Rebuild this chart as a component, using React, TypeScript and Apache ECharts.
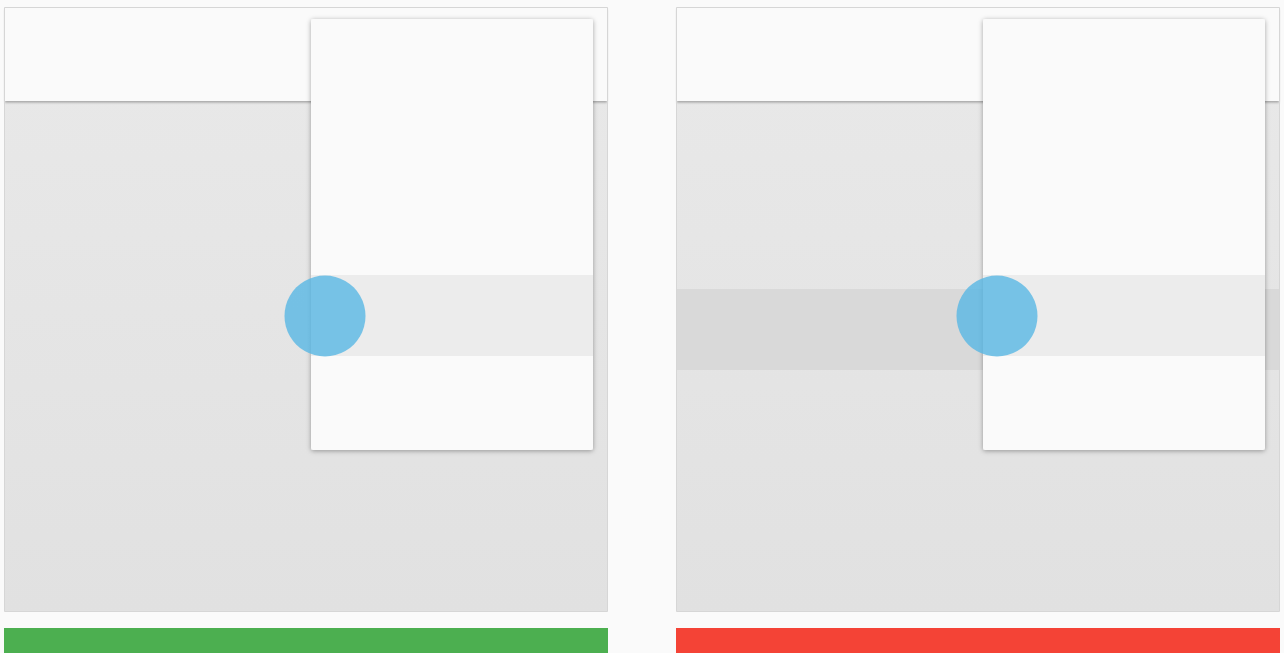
import React, { useEffect, useRef } from "react";
import * as echarts from "echarts";

const panelLefts = [4, 676];
const panelWidth = 604;
const statusColors = ["#4caf50", "#f44336"];
const showBackgroundRow = [false, true];

export default function App() {
  const ref = useRef<HTMLDivElement>(null);
  useEffect(() => {
    const chart = echarts.init(ref.current!, null, { renderer: "svg" });
    const elements: any[] = [];
    panelLefts.forEach((px, i) => {
      // panel body
      elements.push({
        type: "rect",
        shape: { x: px + 0.5, y: 7.5, width: panelWidth - 1, height: 604 },
        style: {
          fill: new echarts.graphic.LinearGradient(0, 0, 0, 1, [
            { offset: 0, color: "#e9e9e9" },
            { offset: 1, color: "#e1e1e1" },
          ]),
        },
      });
      if (showBackgroundRow[i]) {
        elements.push({
          type: "rect",
          shape: { x: px + 1, y: 289, width: panelWidth - 2, height: 81 },
          style: { fill: "#d9d9d9" },
        });
      }
      // header
      elements.push({
        type: "rect",
        shape: { x: px + 1, y: 8, width: panelWidth - 2, height: 93 },
        style: {
          fill: "#fafafa",
          shadowBlur: 2,
          shadowOffsetY: 1.5,
          shadowColor: "rgba(0,0,0,0.3)",
        },
      });
      // panel border
      elements.push({
        type: "rect",
        shape: { x: px + 0.5, y: 7.5, width: panelWidth - 1, height: 604 },
        style: { fill: "none", stroke: "#d6d6d6", lineWidth: 1 },
      });
      // menu card
      const mx = px + 307;
      elements.push({
        type: "rect",
        shape: { x: mx, y: 19, width: 282, height: 431, r: 2 },
        style: {
          fill: "#fafafa",
          shadowBlur: 5,
          shadowOffsetY: 1,
          shadowColor: "rgba(0,0,0,0.35)",
        },
      });
      elements.push({
        type: "rect",
        shape: { x: mx, y: 275, width: 282, height: 81 },
        style: { fill: "#ececec" },
      });
      // touch circle
      elements.push({
        type: "circle",
        shape: { cx: px + 321, cy: 316, r: 40.5 },
        style: { fill: "rgba(85,182,228,0.78)" },
      });
      // status bar
      elements.push({
        type: "rect",
        shape: { x: px, y: 628, width: panelWidth, height: 30 },
        style: { fill: statusColors[i] },
      });
    });
    chart.setOption({
      animation: false,
      backgroundColor: "#fafafa",
      graphic: { elements },
    });
    return () => chart.dispose();
  }, []);
  return (
    <div
      ref={ref}
      style={{ position: "absolute", left: 0, top: 0, width: 1284, height: 653 }}
    />
  );
}
